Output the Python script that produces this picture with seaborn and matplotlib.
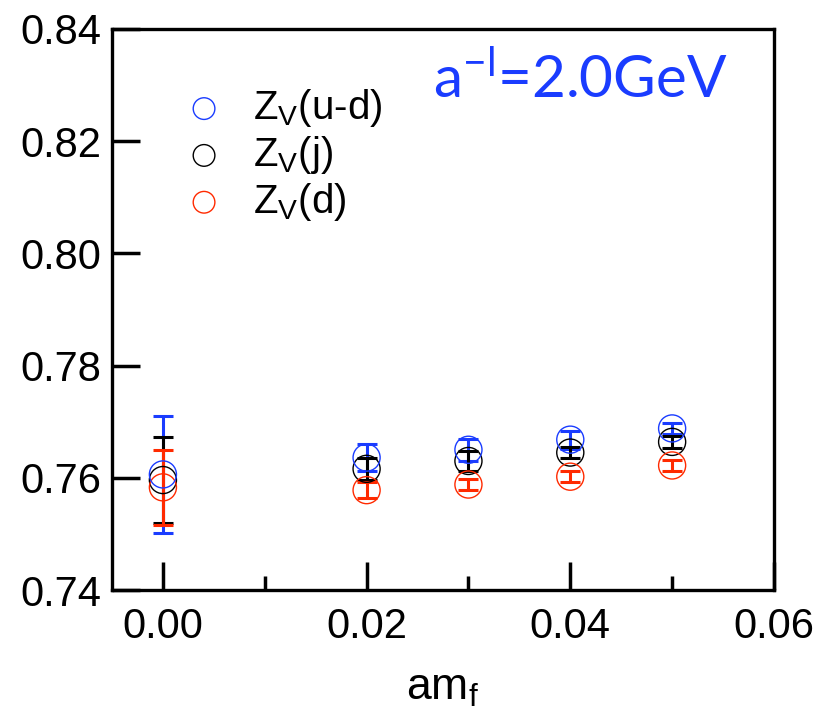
import numpy as np
import pandas as pd
import matplotlib
matplotlib.use("Agg")
import matplotlib.pyplot as plt
import seaborn as sns
from matplotlib.collections import PathCollection

# data
am_f = [0.00, 0.02, 0.03, 0.04, 0.05]
zv_ud = [0.7606, 0.7636, 0.7650, 0.7668, 0.7688]
zv_ud_err = [0.0105, 0.0024, 0.0020, 0.0016, 0.0010]
zv_j = [0.7596, 0.7616, 0.7630, 0.7645, 0.7664]
zv_j_err = [0.0077, 0.0020, 0.0018, 0.0010, 0.0010]
zv_d = [0.7583, 0.7578, 0.7588, 0.7602, 0.7622]
zv_d_err = [0.0067, 0.0014, 0.0010, 0.0010, 0.0010]
labels = ["Z$_{\\mathregular{V}}$(u-d)", "Z$_{\\mathregular{V}}$(j)", "Z$_{\\mathregular{V}}$(d)"]
colors = ["#1a3cff", "#000000", "#ff2a00"]
xticks = [0.00, 0.02, 0.04, 0.06]
yticks = [0.74, 0.76, 0.78, 0.80, 0.82, 0.84]

sns.set_theme(style="white")
plt.rcParams['font.family'] = ['Liberation Sans', 'DejaVu Sans']
plt.rcParams['mathtext.default'] = 'regular'
plt.rcParams['text.color'] = 'black'
plt.rcParams['axes.labelcolor'] = 'black'
plt.rcParams['xtick.color'] = 'black'
plt.rcParams['ytick.color'] = 'black'

fig = plt.figure(figsize=(8.37, 7.19), dpi=100)
ax = fig.add_axes([0.1338, 0.1794, 0.7909, 0.7803])

series = [(zv_ud, zv_ud_err), (zv_j, zv_j_err), (zv_d, zv_d_err)]
order = [1, 2, 0]
for i in order:
    y, e = series[i]
    ax.errorbar(am_f, y, yerr=e, fmt='none', ecolor=colors[i], elinewidth=2.2,
                capsize=7, capthick=2.2, zorder=3 + i * 0.1)
for i in order:
    y, e = series[i]
    df = pd.DataFrame({"x": am_f, "y": y})
    sns.scatterplot(data=df, x="x", y="y", ax=ax, s=380, marker='o',
                    edgecolor=colors[i], facecolor='none', linewidth=1.0,
                    label=labels[i], zorder=4)

sc = [c for c in ax.collections if isinstance(c, PathCollection)]
for c, i in zip(sc, order):
    c.set_facecolor('none')
    c.set_edgecolor(colors[i])

ax.set_xlim(-0.005, 0.06)
ax.set_ylim(0.74, 0.84)
ax.set_xticks(xticks)
ax.set_xticks([0.01, 0.03, 0.05], minor=True)
ax.set_yticks(yticks)
ax.set_xticklabels([f"{v:.2f}" for v in xticks])
ax.set_yticklabels([f"{v:.2f}" for v in yticks])
ax.tick_params(axis='both', which='major', direction='in', length=20, width=2.5,
               labelsize=30, colors='black', bottom=True, left=True)
ax.tick_params(axis='x', which='major', pad=12)
ax.tick_params(axis='y', which='major', pad=8)
ax.tick_params(axis='x', which='minor', direction='in', length=10, width=2.5,
               bottom=True, colors='black')
for sp in ax.spines.values():
    sp.set_linewidth(2.4)
    sp.set_color('black')

ax.set_xlabel("am$_{\\mathregular{f}}$", fontsize=32, labelpad=15, color='black')
ax.set_ylabel("")

hl, lb = ax.get_legend_handles_labels()
mp = dict(zip(lb, hl))
leg = ax.legend([mp[l] for l in labels], labels, loc='upper left',
                bbox_to_anchor=(0.0843, 0.925), frameon=False, fontsize=29,
                markerscale=0.8, handlelength=1.0, handletextpad=0.716, labelspacing=0.12,
                borderaxespad=0, labelcolor='black')
for h, c in zip(leg.legend_handles, colors):
    h.set_facecolor('none')
    h.set_edgecolor(c)

ax.text(0.485, 0.909, "a$^{-l}$=2.0GeV", transform=ax.transAxes, fontsize=42,
        color="#1a3cff", family=['Lato', 'DejaVu Sans'], va='center', ha='left')

fig.savefig("out.png", dpi=100)
